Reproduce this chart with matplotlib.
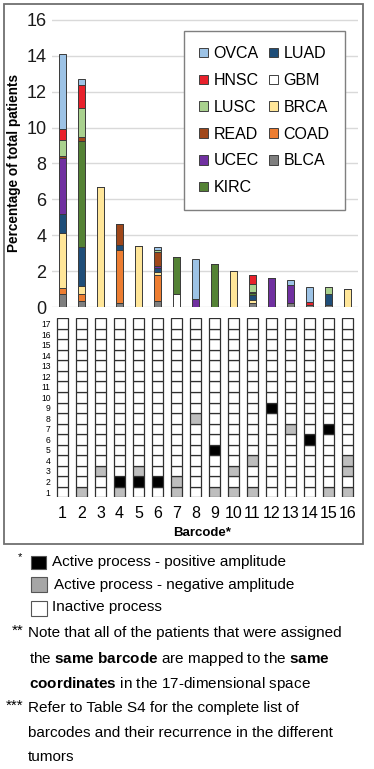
import matplotlib
matplotlib.use('Agg')
import matplotlib.pyplot as plt
from matplotlib.patches import Rectangle, Patch

plt.rcParams['font.family'] = ['Liberation Sans', 'DejaVu Sans']
plt.rcParams['mathtext.fontset'] = 'custom'
plt.rcParams['mathtext.rm'] = 'Liberation Sans'
plt.rcParams['mathtext.bf'] = 'Liberation Sans:bold'
plt.rcParams['mathtext.it'] = 'Liberation Sans:italic'

W, H = 374, 769

# ---------------- data ----------------
barcodes = list(range(1, 17))
dims = list(range(1, 18))

# percentage of total patients, per tumour type, for barcodes 1..16
GBM  = [0, 0, 0, 0, 0, 0, 0.7, 0, 0, 0, 0, 0, 0, 0, 0, 0]
BLCA = [0.7, 0.35, 0, 0.2, 0, 0.35, 0, 0, 0, 0, 0.25, 0, 0.25, 0.1, 0.1, 0]
COAD = [0.35, 0.4, 0, 3.0, 0, 1.45, 0, 0, 0, 0, 0, 0, 0, 0, 0, 0]
BRCA = [3.05, 0.4, 6.7, 0, 3.4, 0.15, 0, 0, 0, 2.0, 0.15, 0, 0, 0, 0, 1.0]
LUAD = [1.1, 2.2, 0, 0.25, 0, 0.25, 0, 0, 0, 0, 0.25, 0, 0, 0, 0.6, 0]
KIRC = [0, 5.9, 0, 0, 0, 0, 2.1, 0, 2.4, 0, 0.12, 0, 0, 0, 0, 0]
UCEC = [3.1, 0, 0, 0, 0, 0.1, 0, 0.45, 0, 0, 0, 1.6, 0.95, 0, 0, 0]
READ = [0.1, 0.2, 0, 1.15, 0, 0.75, 0, 0, 0, 0, 0.08, 0, 0, 0, 0, 0]
LUSC = [0.9, 1.65, 0, 0, 0, 0.1, 0, 0, 0, 0, 0.45, 0, 0, 0, 0.4, 0]
HNSC = [0.6, 1.3, 0, 0, 0, 0, 0, 0, 0, 0, 0.5, 0, 0, 0.2, 0, 0]
OVCA = [4.2, 0.3, 0, 0, 0, 0.2, 0, 2.2, 0, 0, 0, 0, 0.32, 0.8, 0, 0]

# active dimensions of each barcode (1..17)
positive_dims = [[], [], [], [2], [2], [2], [], [], [5], [], [], [9], [], [6], [7], []]
negative_dims = [[], [1], [3], [1], [3], [], [1, 2], [8], [1], [1, 3], [1, 4], [], [7], [], [1], [1, 3, 4]]

# ---------------- styles ----------------
colors = {
    'OVCA': '#9DC3E6', 'LUAD': '#1F4E79', 'HNSC': '#E8212B', 'GBM': '#FFFFFF',
    'LUSC': '#A9D18E', 'BRCA': '#FFE699', 'READ': '#A0471A', 'COAD': '#ED7D31',
    'UCEC': '#7030A0', 'BLCA': '#7F7F7F', 'KIRC': '#548235',
}
stack = [('GBM', GBM), ('BLCA', BLCA), ('COAD', COAD), ('BRCA', BRCA), ('LUAD', LUAD),
         ('KIRC', KIRC), ('UCEC', UCEC), ('READ', READ), ('LUSC', LUSC),
         ('HNSC', HNSC), ('OVCA', OVCA)]
legend_order = ['OVCA', 'HNSC', 'LUSC', 'READ', 'UCEC', 'KIRC',
                'LUAD', 'GBM', 'BRCA', 'COAD', 'BLCA']


def fx(px):
    return px / W


def fy(py):
    return 1 - py / H


fig = plt.figure(figsize=(W / 100, H / 100), dpi=100)

# outer frame
fig.add_artist(Rectangle((fx(4), fy(544)), fx(363) - fx(4), fy(4) - fy(544),
                         transform=fig.transFigure, fill=False,
                         edgecolor='#707070', lw=1.3))

# ---------------- stacked bars ----------------
ax_left, ax_right = 52, 358
xlim = (0.45, 16.55)
top_px = 20 - 0.3 * 17.94
ax = fig.add_axes([fx(ax_left), fy(307), fx(ax_right) - fx(ax_left), fy(top_px) - fy(307)])
bottom = [0.0] * 16
for name, vals in stack:
    ax.bar(barcodes, vals, bottom=bottom, width=0.38, color=colors[name],
           edgecolor='#3a3a3a', linewidth=0.7, zorder=3)
    bottom = [b + v for b, v in zip(bottom, vals)]
ax.set_xlim(*xlim)
ax.set_ylim(0, 16.3)
ax.set_yticks(range(0, 17, 2))
ax.yaxis.grid(True, color='#D9D9D9', lw=1.0, zorder=0)
ax.set_xticks([])
for s in ax.spines.values():
    s.set_visible(False)
ax.tick_params(axis='y', length=0, labelsize=13, pad=4, labelcolor='#1a1a1a')

handles = [Patch(facecolor=colors[n], edgecolor='#404040', lw=0.7, label=n) for n in legend_order]
leg = ax.legend(handles=handles, ncol=2, loc='upper left',
                bbox_to_anchor=(fx(184), fy(31)), bbox_transform=fig.transFigure,
                borderaxespad=0, fontsize=11.5, handlelength=0.55, handleheight=0.55,
                handletextpad=0.35, columnspacing=0.65, labelspacing=0.74,
                borderpad=0.95, fancybox=False, framealpha=1, edgecolor='#7F7F7F')
leg.get_frame().set_linewidth(1.0)

fig.text(fx(14), fy(163), 'Percentage of total patients', rotation=90,
         ha='center', va='center', fontsize=9.8, fontweight='bold')

# ---------------- barcode grid ----------------
ax2 = fig.add_axes([fx(ax_left), fy(497.3), fx(ax_right) - fx(ax_left), fy(318.3) - fy(497.3)])
for i, b in enumerate(barcodes):
    for d in dims:
        if d in positive_dims[i]:
            c = '#000000'
        elif d in negative_dims[i]:
            c = '#BEBEBE'
        else:
            c = '#FFFFFF'
        ax2.bar(b, 1, bottom=d - 0.5, width=0.56, color=c,
                edgecolor='#303030', linewidth=0.9)
ax2.set_xlim(*xlim)
ax2.set_ylim(0.5, 17.5)
ax2.set_yticks(dims)
ax2.set_yticklabels([str(d) for d in dims])
ax2.set_xticks(barcodes)
ax2.set_xticklabels([str(b) for b in barcodes])
for s in ax2.spines.values():
    s.set_visible(False)
ax2.tick_params(axis='y', length=0, labelsize=6.2, pad=1)
ax2.tick_params(axis='x', length=0, labelsize=11.5, pad=6)

fig.text(fx(202), fy(533), 'Barcode*', ha='center', va='center',
         fontsize=9.5, fontweight='bold')

# ---------------- footnotes ----------------
fs = 11
fig.text(fx(20), fy(557), '*', ha='center', va='center', fontsize=8)
for (x0, y0, x1, y1), c in [((31, 556, 46, 569), '#000000'),
                            ((31, 577, 47, 592), '#A6A6A6'),
                            ((31, 601, 47, 616), '#FFFFFF')]:
    fig.add_artist(Rectangle((fx(x0), fy(y1)), fx(x1) - fx(x0), fy(y0) - fy(y1),
                             transform=fig.transFigure, facecolor=c,
                             edgecolor='#555555', lw=0.8))
fig.text(fx(52), fy(562), 'Active process - positive amplitude', va='center', fontsize=fs)
fig.text(fx(54), fy(585), 'Active process - negative amplitude', va='center', fontsize=fs)
fig.text(fx(52), fy(607), 'Inactive process', va='center', fontsize=fs)

fig.text(fx(12), fy(631), '**', va='center', fontsize=fs)
fig.text(fx(28), fy(633), 'Note that all of the patients that were assigned', va='center', fontsize=fs)
fig.text(fx(29), fy(659), r'the $\mathbf{same\ barcode}$ are mapped to the $\mathbf{same}$',
         va='center', fontsize=fs)
fig.text(fx(29), fy(684), r'$\mathbf{coordinates}$ in the 17-dimensional space',
         va='center', fontsize=fs)
fig.text(fx(6), fy(706), '***', va='center', fontsize=fs)
fig.text(fx(28), fy(708), 'Refer to Table S4 for the complete list of', va='center', fontsize=fs)
fig.text(fx(28), fy(733), 'barcodes and their recurrence in the different', va='center', fontsize=fs)
fig.text(fx(28), fy(757), 'tumors', va='center', fontsize=fs)

fig.savefig('out.png', dpi=100)
